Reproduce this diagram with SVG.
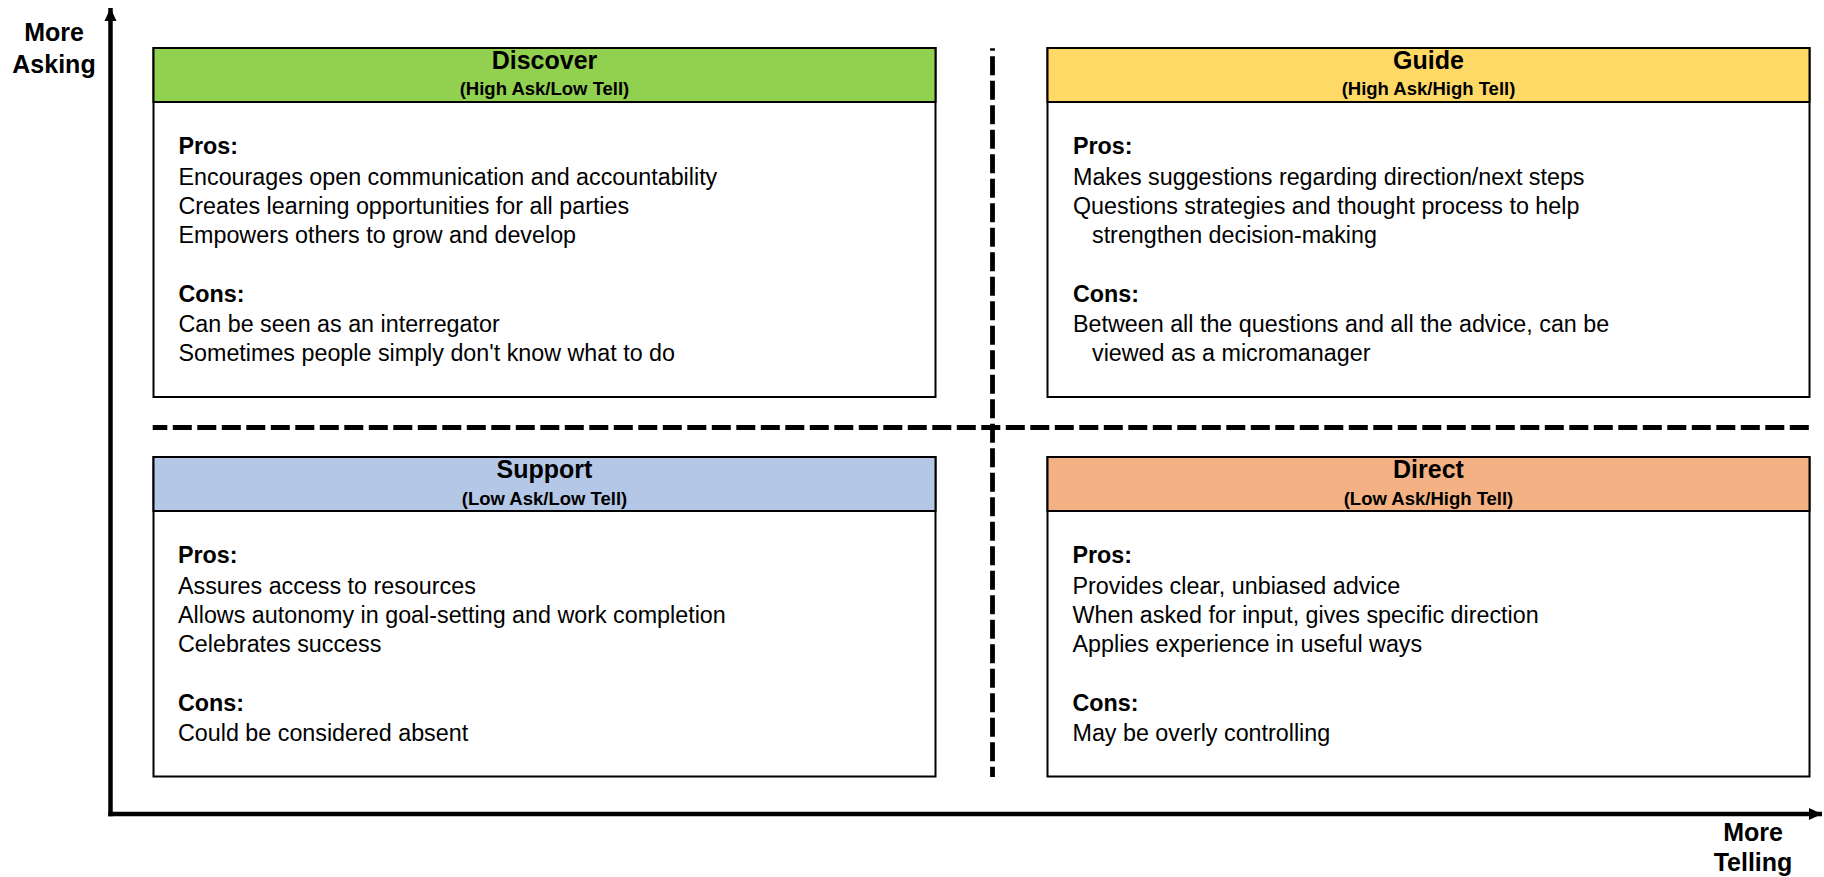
<svg xmlns="http://www.w3.org/2000/svg" width="1824" height="877" viewBox="0 0 1824 877">
  <style>
    text { font-family: "Liberation Sans", Arial, Helvetica, sans-serif; fill: #000; }
    .axis-label { font-size: 25px; font-weight: bold; text-anchor: middle; }
    .title { font-size: 25px; font-weight: bold; text-anchor: middle; }
    .subtitle { font-size: 18.5px; font-weight: bold; text-anchor: middle; }
    .body { font-size: 23.3px; }
    .head { font-size: 23.3px; font-weight: bold; }
    .frame { fill: #fff; stroke: #000; stroke-width: 2; }
    .band { stroke: #000; stroke-width: 2; }
    .axis { stroke: #000; stroke-width: 4.5; fill: none; }
    .divider { stroke: #000; stroke-width: 4.8; fill: none; stroke-dasharray: 19 5.5; }
  </style>
  <defs>
    <marker id="arrow" markerUnits="userSpaceOnUse" markerWidth="14" markerHeight="14" viewBox="0 0 14 14" refX="13" refY="7" orient="auto">
      <path d="M0,1 L13,7 L0,13 Z" fill="#000"/>
    </marker>
  </defs>

  <rect width="1824" height="877" fill="#fff"/>

  <!-- axes and quadrant dividers -->
  <g id="connectors">
    <line class="axis" x1="110.5" y1="816.3" x2="110.5" y2="8" marker-end="url(#arrow)"/>
    <line class="axis" x1="108.3" y1="814" x2="1822" y2="814" marker-end="url(#arrow)"/>
    <line class="divider" x1="992.5" y1="48.3" x2="992.5" y2="777" stroke-dashoffset="16.6"/>
    <line class="divider" x1="152.7" y1="427.5" x2="1810" y2="427.5" stroke-dashoffset="4.4"/>
  </g>

  <g id="axis-y-label">
    <text class="axis-label" x="54" y="41">More</text>
    <text class="axis-label" x="54" y="73">Asking</text>
  </g>
  <g id="axis-x-label">
    <text class="axis-label" x="1753" y="841">More</text>
    <text class="axis-label" x="1753" y="871">Telling</text>
  </g>

  <!-- Discover quadrant -->
  <g id="discover">
    <rect class="frame" x="153.5" y="48" width="782" height="349"/>
    <rect class="band" x="153.5" y="48" width="782" height="54" fill="#92D050"/>
    <text class="title" x="544.5" y="69">Discover</text>
    <text class="subtitle" x="544.5" y="95">(High Ask/Low Tell)</text>
    <text class="head" x="178.5" y="154.3">Pros:</text>
    <text class="body" x="178.5" y="185">Encourages open communication and accountability</text>
    <text class="body" x="178.5" y="213.5">Creates learning opportunities for all parties</text>
    <text class="body" x="178.5" y="242.5">Empowers others to grow and develop</text>
    <text class="head" x="178.5" y="301.7">Cons:</text>
    <text class="body" x="178.5" y="331.7">Can be seen as an interregator</text>
    <text class="body" x="178.5" y="361">Sometimes people simply don't know what to do</text>
  </g>

  <!-- Guide quadrant -->
  <g id="guide">
    <rect class="frame" x="1047.5" y="48" width="762" height="349"/>
    <rect class="band" x="1047.5" y="48" width="762" height="54" fill="#FFD966"/>
    <text class="title" x="1428.5" y="69">Guide</text>
    <text class="subtitle" x="1428.5" y="95">(High Ask/High Tell)</text>
    <text class="head" x="1073" y="154.3">Pros:</text>
    <text class="body" x="1073" y="185">Makes suggestions regarding direction/next steps</text>
    <text class="body" x="1073" y="213.5">Questions strategies and thought process to help</text>
    <text class="body" x="1092" y="242.5">strengthen decision-making</text>
    <text class="head" x="1073" y="301.7">Cons:</text>
    <text class="body" x="1073" y="331.7">Between all the questions and all the advice, can be</text>
    <text class="body" x="1092" y="361">viewed as a micromanager</text>
  </g>

  <!-- Support quadrant -->
  <g id="support">
    <rect class="frame" x="153.5" y="457" width="782" height="319.5"/>
    <rect class="band" x="153.5" y="457" width="782" height="54" fill="#B4C7E7"/>
    <text class="title" x="544.5" y="478">Support</text>
    <text class="subtitle" x="544.5" y="504.5">(Low Ask/Low Tell)</text>
    <text class="head" x="178" y="563.3">Pros:</text>
    <text class="body" x="178" y="594">Assures access to resources</text>
    <text class="body" x="178" y="623">Allows autonomy in goal-setting and work completion</text>
    <text class="body" x="178" y="651.7">Celebrates success</text>
    <text class="head" x="178" y="710.5">Cons:</text>
    <text class="body" x="178" y="741">Could be considered absent</text>
  </g>

  <!-- Direct quadrant -->
  <g id="direct">
    <rect class="frame" x="1047.5" y="457" width="762" height="319.5"/>
    <rect class="band" x="1047.5" y="457" width="762" height="54" fill="#F4B183"/>
    <text class="title" x="1428.5" y="478">Direct</text>
    <text class="subtitle" x="1428.5" y="504.5">(Low Ask/High Tell)</text>
    <text class="head" x="1072.5" y="563.3">Pros:</text>
    <text class="body" x="1072.5" y="594">Provides clear, unbiased advice</text>
    <text class="body" x="1072.5" y="623">When asked for input, gives specific direction</text>
    <text class="body" x="1072.5" y="651.7">Applies experience in useful ways</text>
    <text class="head" x="1072.5" y="710.5">Cons:</text>
    <text class="body" x="1072.5" y="741">May be overly controlling</text>
  </g>
</svg>
